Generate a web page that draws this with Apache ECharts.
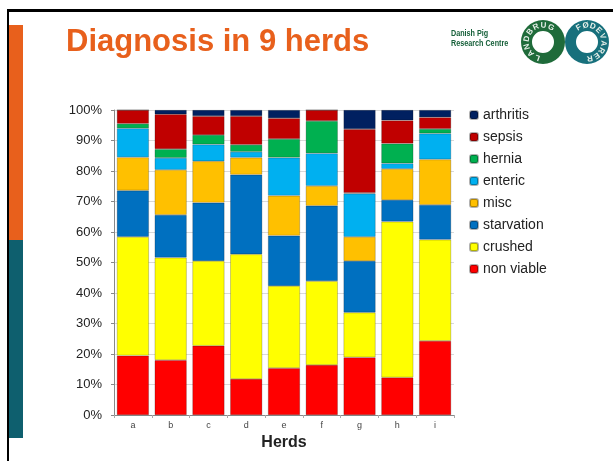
<!DOCTYPE html>
<html>
<head>
<meta charset="utf-8">
<script src="https://cdn.jsdelivr.net/npm/echarts@6/dist/echarts.min.js"></script>
<style>
  html, body { margin: 0; padding: 0; background: #fff; }
  #main { width: 613px; height: 461px; }
</style>
</head>
<body>
<div id="main"></div>
<script>
// herds on the x axis
var herds = ['a', 'b', 'c', 'd', 'e', 'f', 'g', 'h', 'i'];

// share of each diagnosis per herd, in %
var nonViable  = [19.5, 18.0, 22.7, 11.8, 15.4, 16.4, 18.9, 12.3, 24.3];
var crushed    = [38.9, 33.6, 27.8, 40.9, 26.9, 27.5, 14.7, 51.1, 33.2];
var starvation = [15.2, 14.0, 19.1, 26.1, 16.5, 24.7, 16.9, 7.1, 11.4];
var misc       = [10.9, 14.8, 13.6, 5.6, 13.1, 6.5, 7.9, 10.2, 14.9];
var enteric    = [9.5, 3.9, 5.5, 1.9, 12.5, 10.7, 14.2, 1.8, 8.5];
var hernia     = [1.5, 2.9, 3.1, 2.3, 6.1, 10.6, 0.2, 6.5, 1.5];
var sepsis     = [4.5, 11.4, 6.2, 9.4, 6.8, 3.6, 20.9, 7.6, 3.8];
var arthritis  = [0, 1.4, 2.0, 2.0, 2.7, 0, 6.3, 3.4, 2.4];

var chart = echarts.init(document.getElementById('main'), null, { renderer: 'canvas' });

var orange = '#E8601C';
var teal = '#0E5F6E';

// one stacked bar series
function bar(name, data, color) {
  return {
    name: name,
    type: 'bar',
    stack: 'total',
    barCategoryGap: '15%',
    data: data,
    itemStyle: { color: color, borderColor: 'rgba(0,0,0,0.3)', borderWidth: 0.7 }
  };
}

// letters around a logo ring (angle from top, clockwise, in degrees)
function ringLetters(text, cx, cy, r, start, step) {
  var out = [];
  for (var i = 0; i < text.length; i++) {
    var a = (start + i * step) * Math.PI / 180;
    out.push({
      type: 'text',
      x: cx + r * Math.sin(a),
      y: cy - r * Math.cos(a),
      rotation: -a,
      style: {
        text: text[i], fill: '#e8f0ea', font: 'bold 8px "Liberation Sans"',
        align: 'center', verticalAlign: 'middle'
      },
      z: 20
    });
  }
  return out;
}

var graphics = [
  // slide frame
  { type: 'rect', shape: { x: 7, y: 9, width: 620, height: 3 }, style: { fill: '#000' }, z: 10 },
  { type: 'rect', shape: { x: 7, y: 9, width: 2, height: 460 }, style: { fill: '#000' }, z: 10 },
  { type: 'rect', shape: { x: 9, y: 25, width: 14, height: 215 }, style: { fill: orange }, z: 10 },
  { type: 'rect', shape: { x: 9, y: 240, width: 14, height: 198 }, style: { fill: teal }, z: 10 },
  // title
  {
    type: 'text', x: 66, y: 27,
    style: { text: 'Diagnosis in 9 herds', fill: orange, font: 'bold 31px "Liberation Sans"', verticalAlign: 'top' },
    z: 10
  },
  // logo
  {
    type: 'text', x: 451, y: 29, scaleX: 0.8,
    style: { text: 'Danish Pig\nResearch Centre', fill: '#17603A', font: 'bold 9px "Liberation Sans"', lineHeight: 10 },
    z: 10
  },
  { type: 'ring', shape: { cx: 587, cy: 42, r: 22, r0: 11 }, style: { fill: '#17707C' }, z: 11 },
  { type: 'ring', shape: { cx: 543, cy: 42, r: 22, r0: 11 }, style: { fill: '#1F6B3A' }, z: 12 }
];
graphics = graphics.concat(ringLetters('LANDBRUG', 543, 42, 16.5, 200, 27));
graphics = graphics.concat(ringLetters('FØDEVARER', 587, 42, 16.5, 330, 25));

var option = {
  animation: false,
  textStyle: { fontFamily: '"Liberation Sans", Arial, sans-serif' },
  grid: { left: 114, right: 159, top: 110, bottom: 46 },
  legend: {
    orient: 'vertical',
    left: 469,
    top: 107,
    padding: 0,
    itemWidth: 8,
    itemHeight: 8,
    itemGap: 6,
    textStyle: { fontSize: 14, color: '#222', lineHeight: 16 },
    data: ['arthritis', 'sepsis', 'hernia', 'enteric', 'misc', 'starvation', 'crushed', 'non viable']
  },
  xAxis: {
    type: 'category',
    data: herds,
    name: 'Herds',
    nameLocation: 'middle',
    nameGap: 12,
    nameTextStyle: { fontSize: 16, fontWeight: 'bold', color: '#222' },
    axisLine: { lineStyle: { color: '#888' } },
    axisTick: { show: true, length: 3, lineStyle: { color: '#aaa' } },
    axisLabel: { fontSize: 9, color: '#444', margin: 6 }
  },
  yAxis: {
    type: 'value',
    min: 0,
    max: 100,
    interval: 10,
    axisLine: { show: true, lineStyle: { color: '#888' } },
    axisTick: { show: true, length: 3, lineStyle: { color: '#888' } },
    axisLabel: { formatter: '{value}%', fontSize: 13, color: '#222', margin: 12 },
    splitLine: { lineStyle: { color: '#d9d9d9' } }
  },
  series: [
    bar('non viable', nonViable, '#FF0000'),
    bar('crushed', crushed, '#FFFF00'),
    bar('starvation', starvation, '#0070C0'),
    bar('misc', misc, '#FFC000'),
    bar('enteric', enteric, '#00B0F0'),
    bar('hernia', hernia, '#00B050'),
    bar('sepsis', sepsis, '#C00000'),
    bar('arthritis', arthritis, '#002060')
  ],
  graphic: graphics
};

chart.setOption(option);
</script>
</body>
</html>
